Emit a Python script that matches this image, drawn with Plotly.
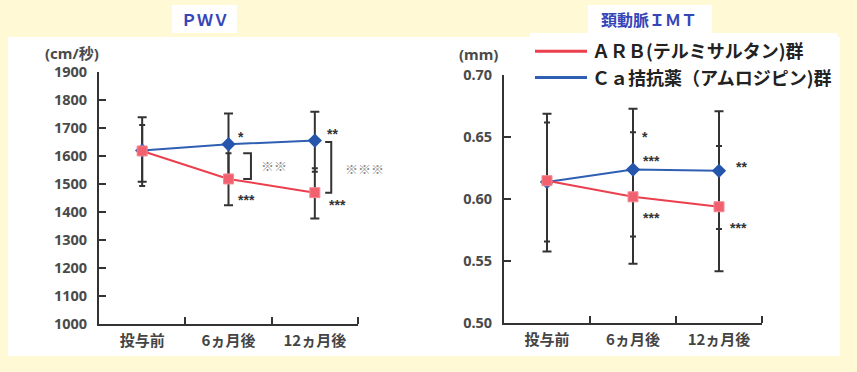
import plotly.graph_objects as go

# ---------------- data ----------------
categories = ["投与前", "6ヵ月後", "12ヵ月後"]
cat_idx = [0, 1, 2]

# PWV (cm/秒)
pwv_arb = [1618, 1518, 1469]
pwv_arb_plus = [93, 92, 87]
pwv_arb_minus = [110, 94, 92]
pwv_ca = [1620, 1642, 1655]
pwv_ca_plus = [118, 110, 103]
pwv_ca_minus = [127, 112, 111]

# IMT (mm)
imt_arb = [0.615, 0.602, 0.594]
imt_arb_plus = [0.047, 0.052, 0.049]
imt_arb_minus = [0.057, 0.054, 0.052]
imt_ca = [0.614, 0.624, 0.623]
imt_ca_plus = [0.055, 0.049, 0.048]
imt_ca_minus = [0.048, 0.054, 0.047]

pwv_ticks = [1000, 1100, 1200, 1300, 1400, 1500, 1600, 1700, 1800, 1900]
imt_ticks = [0.50, 0.55, 0.60, 0.65, 0.70]
imt_ticktext = ["0.50", "0.55", "0.60", "0.65", "0.70"]

# significance marks: (category position, value, text, x pixel shift)
pwv_marks = [(1.15, 1679, "*", 0), (2.21, 1689, "**", 0), (1.21, 1454, "***", 0),
             (2.26, 1436, "***", 0)]
pwv_between = [(1.53, 1566, "※※", 0), (2.5, 1556, "※※※", -15)]
pwv_brackets = [(1.17, 1.26, 1518, 1610), (2.12, 2.19, 1469, 1650)]
imt_marks = [(1.14, 0.6527, "*", 0), (1.22, 0.6333, "***", 0), (2.26, 0.6285, "**", 0),
             (1.22, 0.5874, "***", 0), (2.23, 0.5793, "***", 0)]

series_names = ["ＡＲＢ(テルミサルタン)群", "Ｃａ拮抗薬（アムロジピン)群"]

# ---------------- style ----------------
RED = "#ec3f4e"
RED_MK = "#f0606e"
BLUE = "#2f5fb3"
BLUE_MK = "#2556ab"
ERR = "#333333"
BG = "#fff9d6"
TICKFONT = dict(family="Noto Sans, Liberation Sans, sans-serif", size=14.5, color="#4a4a4a",
                weight="bold")
CATFONT = dict(family="Noto Sans CJK JP", size=15, color="#444444", weight="bold")
STARFONT = dict(size=14, color="#333333", family="Liberation Sans", weight="bold")
UNITFONT = dict(family="Noto Sans, Noto Sans CJK JP, sans-serif", size=15, color="#4a4a4a",
                weight="bold")
W = 857
H = 372

fig = go.Figure()


def add_err(xa, ya, vals, up, down, color, w_up, w_down):
    zeros = [0] * len(vals)
    fig.add_trace(go.Scatter(
        x=cat_idx, y=vals, mode="markers", xaxis=xa, yaxis=ya, showlegend=False,
        marker=dict(size=1, color="rgba(0,0,0,0)"), hoverinfo="skip",
        error_y=dict(type="data", symmetric=False, array=up, arrayminus=zeros,
                     color=color, thickness=2, width=w_up)))
    fig.add_trace(go.Scatter(
        x=cat_idx, y=vals, mode="markers", xaxis=xa, yaxis=ya, showlegend=False,
        marker=dict(size=1, color="rgba(0,0,0,0)"), hoverinfo="skip",
        error_y=dict(type="data", symmetric=False, array=zeros, arrayminus=down,
                     color=color, thickness=2, width=w_down)))


# error bars (outer caps wider)
add_err("x", "y", pwv_ca, pwv_ca_plus, pwv_ca_minus, ERR, 4.5, 3)
add_err("x", "y", pwv_arb, pwv_arb_plus, pwv_arb_minus, ERR, 3, 4.5)
add_err("x2", "y2", imt_ca, imt_ca_plus, imt_ca_minus, ERR, 4.5, 3)
add_err("x2", "y2", imt_arb, imt_arb_plus, imt_arb_minus, ERR, 3, 4.5)

# brackets
for x0, x1, lo, hi in pwv_brackets:
    fig.add_trace(go.Scatter(x=[x0, x1, x1, x0], y=[hi, hi, lo, lo], mode="lines",
                             line=dict(color=ERR, width=2), showlegend=False,
                             hoverinfo="skip", xaxis="x", yaxis="y"))

# series lines
for xa, ya, ca, arb in [("x", "y", pwv_ca, pwv_arb), ("x2", "y2", imt_ca, imt_arb)]:
    fig.add_trace(go.Scatter(x=cat_idx, y=ca, mode="lines+markers", xaxis=xa, yaxis=ya,
                             line=dict(color=BLUE, width=2),
                             marker=dict(symbol="diamond", size=11, color=BLUE_MK),
                             showlegend=False))
    fig.add_trace(go.Scatter(x=cat_idx, y=arb, mode="lines+markers", xaxis=xa, yaxis=ya,
                             line=dict(color=RED, width=2),
                             marker=dict(symbol="square", size=10, color=RED_MK,
                                         line=dict(color="#f58a94", width=1)),
                             showlegend=False))

# legend entries
fig.add_trace(go.Scatter(x=[None], y=[None], mode="lines", name=series_names[0],
                         line=dict(color=RED, width=3), xaxis="x2", yaxis="y2"))
fig.add_trace(go.Scatter(x=[None], y=[None], mode="lines", name=series_names[1],
                         line=dict(color=BLUE, width=3), xaxis="x2", yaxis="y2"))

annotations = []
for x, y, t, s in pwv_marks:
    annotations.append(dict(x=x, y=y, xref="x", yref="y", text=t, showarrow=False, xshift=s,
                            yshift=-3, font=STARFONT))
for x, y, t, s in pwv_between:
    annotations.append(dict(x=x, y=y, xref="x", yref="y", text=t, showarrow=False, xshift=s,
                            xanchor="left" if s else "center",
                            font=dict(size=13, color="#8c8c8c", family="Noto Sans CJK JP")))
for x, y, t, s in imt_marks:
    annotations.append(dict(x=x, y=y, xref="x2", yref="y2", text=t, showarrow=False, xshift=s,
                            yshift=-3, font=STARFONT))

PAPER = dict(xref="paper", yref="paper", showarrow=False, xanchor="center", yanchor="middle")
# titles
annotations.append(dict(x=205 / W, y=1 - 19 / H, text="ＰＷＶ", **PAPER,
                        font=dict(family="Noto Sans CJK JP", size=16, color="#3646b8",
                                  weight="bold")))
annotations.append(dict(x=649 / W, y=1 - 19 / H, text="頚動脈ＩＭＴ", **PAPER,
                        font=dict(family="Noto Sans CJK JP", size=16, color="#3646b8",
                                  weight="bold")))
# unit labels
annotations.append(dict(x=72 / W, y=1 - 53 / H, text="(cm/秒)", **PAPER, font=UNITFONT))
annotations.append(dict(x=478 / W, y=1 - 54 / H, text="(mm)", **PAPER, font=UNITFONT))

shapes = [
    dict(type="rect", xref="paper", yref="paper", x0=8 / W, x1=840 / W, y0=1 - 356 / H,
         y1=1 - 37 / H, fillcolor="white", line=dict(width=0), layer="below"),
    dict(type="rect", xref="paper", yref="paper", x0=172 / W, x1=237 / W, y0=1 - 33 / H,
         y1=1 - 5 / H, fillcolor="white", line=dict(width=0), layer="below"),
    dict(type="rect", xref="paper", yref="paper", x0=588 / W, x1=712 / W, y0=1 - 33 / H,
         y1=1 - 5 / H, fillcolor="white", line=dict(width=0), layer="below"),
]

xcommon = dict(range=[-0.5, 2.5], tickvals=cat_idx, ticktext=categories, ticks="",
               showline=True, linecolor=ERR, linewidth=2, showgrid=False, zeroline=False,
               tickfont=CATFONT, ticklabelstandoff=2, fixedrange=True, automargin=False,
               minor=dict(tickvals=[0.5, 1.5, 2.5], ticks="inside", ticklen=7,
                          tickcolor=ERR, tickwidth=2))
ycommon = dict(showline=True, linecolor=ERR, linewidth=2, showgrid=False, zeroline=False,
               ticks="inside", ticklen=7, tickcolor=ERR, tickwidth=2, tickfont=TICKFONT,
               ticklabelstandoff=7, automargin=False, fixedrange=True)

fig.update_layout(
    width=W, height=H, autosize=False, margin=dict(l=0, r=0, t=0, b=0, pad=0),
    paper_bgcolor=BG, plot_bgcolor="rgba(0,0,0,0)",
    xaxis=dict(domain=[99 / W, 358 / W], anchor="y", **xcommon),
    yaxis=dict(domain=[1 - 324 / H, 1 - 72 / H], anchor="x", range=[1000, 1900],
               tickvals=pwv_ticks, **ycommon),
    xaxis2=dict(domain=[504 / W, 762 / W], anchor="y2", **xcommon),
    yaxis2=dict(domain=[1 - 323.3 / H, 1 - 75.3 / H], anchor="x2", range=[0.5, 0.7],
                tickvals=imt_ticks, ticktext=imt_ticktext, **ycommon),
    legend=dict(x=530 / W, y=1 - 33 / H, xanchor="left", yanchor="top", bgcolor="white",
                font=dict(family="Noto Sans CJK JP", size=18, color="#222222", weight="bold"),
                itemwidth=52, tracegroupgap=0),
    annotations=annotations, shapes=shapes, showlegend=True,
)

fig.write_html("out.html", config={"responsive": False, "displayModeBar": False},
               post_script="document.body.style.margin='0';")
